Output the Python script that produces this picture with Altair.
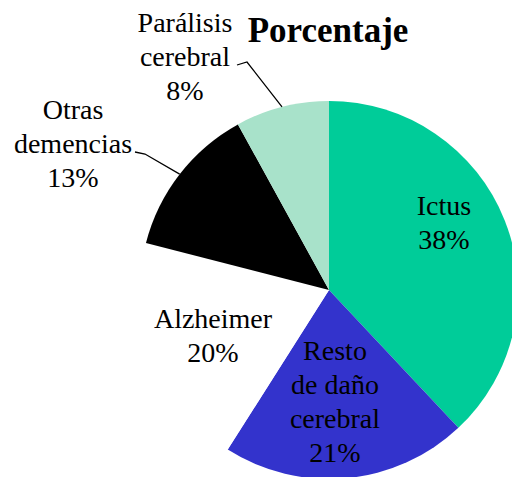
import math
import altair as alt
import pandas as pd

# ---- data ----
categories = ["Ictus", "Resto de daño cerebral", "Alzheimer", "Otras demencias", "Parálisis cerebral"]
values = [38, 21, 20, 13, 8]
label_lines = [
    ["Ictus", "38%"],
    ["Resto", "de daño", "cerebral", "21%"],
    ["Alzheimer", "20%"],
    ["Otras", "demencias", "13%"],
    ["Parálisis", "cerebral", "8%"],
]
title_text = "Porcentaje"

# ---- styles / layout ----
colors = ["#00CC99", "#3333CC", "#FFFFFF", "#000000", "#A8E2CA"]
W, H = 504, 469
CX, CY, R = 321, 282, 189
FONT = "Liberation Serif"
label_x = [436, 327, 205, 65, 177]
label_y = [207, 352, 320, 111, 24]
# leader line start points (near label) for outside labels: index -> list of points
leader_start = {3: [(127, 144), (137, 146)], 4: [(229, 57), (239, 54)]}

pie_df = pd.DataFrame({"cat": categories, "val": values, "idx": list(range(len(values)))})

lab_df = pd.DataFrame({
    "cat": categories,
    "lines": label_lines,
    "px": label_x,
    "py": label_y,
})

total = sum(values)
rows = []
cum = 0
for i, v in enumerate(values):
    mid = 2 * math.pi * (cum + v / 2) / total
    cum += v
    if i in leader_start:
        pts = list(leader_start[i]) + [(CX + R * math.sin(mid), CY - R * math.cos(mid))]
        for k, (x, y) in enumerate(pts):
            rows.append({"lid": categories[i], "ord": k, "px": x, "py": y})
lead_df = pd.DataFrame(rows)

pie = alt.Chart(pie_df).mark_arc(radius=R, stroke=None).encode(
    theta=alt.Theta("val:Q", stack=True),
    order=alt.Order("idx:Q"),
    color=alt.Color("cat:N", scale=alt.Scale(domain=categories, range=colors), legend=None),
    x=alt.value(CX),
    y=alt.value(CY),
)

labels = alt.Chart(lab_df).mark_text(
    font=FONT, fontSize=28, lineHeight=34, align="center", baseline="alphabetic", color="black"
).encode(
    x=alt.X("px:Q", scale=None, axis=None),
    y=alt.Y("py:Q", scale=None, axis=None),
    text="lines",
)

leaders = alt.Chart(lead_df).mark_line(color="black", strokeWidth=1.3).encode(
    x=alt.X("px:Q", scale=None, axis=None),
    y=alt.Y("py:Q", scale=None, axis=None),
    detail="lid:N",
    order="ord:Q",
)

title = alt.Chart(pd.DataFrame({"t": [title_text]})).mark_text(
    font=FONT, fontSize=35, fontWeight="bold", align="center", baseline="alphabetic", color="black"
).encode(x=alt.value(320), y=alt.value(34), text="t:N")

chart = alt.layer(pie, leaders, labels, title).properties(
    width=W, height=H, autosize="none", padding=0
).configure_view(stroke=None)

chart.save("out.html", embed_options={"renderer": "svg", "actions": False})
